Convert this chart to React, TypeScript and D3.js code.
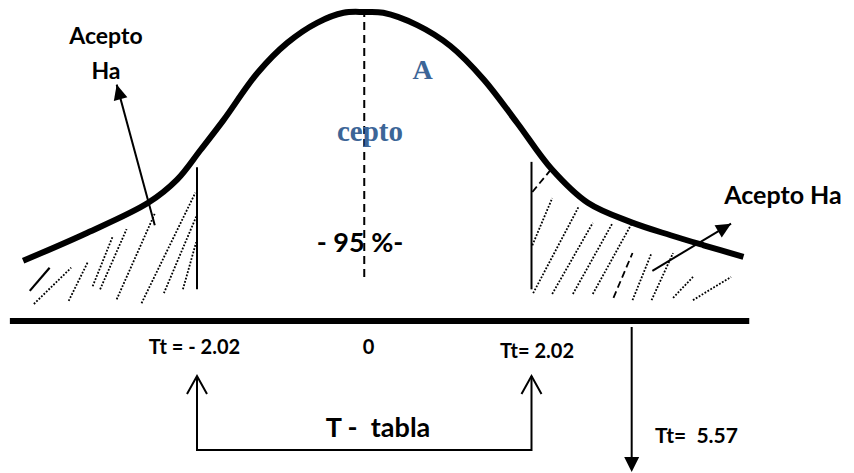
import React from "react";
import * as d3 from "d3";

// Curve: t value and density height
const tVals = [-4.12, -3.35, -2.61, -2.26, -1.98, -1.70, -1.29, -0.93, -0.57, -0.25, 0, 0.23, 0.64, 1.04, 1.44, 1.85, 2.26, 2.70, 3.22, 3.70, 4.10, 4.58];
const density = [0.078, 0.114, 0.153, 0.183, 0.221, 0.260, 0.321, 0.360, 0.386, 0.399, 0.400, 0.399, 0.383, 0.356, 0.313, 0.256, 0.197, 0.153, 0.128, 0.111, 0.098, 0.083];

// critical values
const criticalT = [-2.02, 2.02];
const calcT = 3.23; // position of the Tt = 5.57 marker on the drawing
const axisRange = [-4.28, 4.65];

// hatch strokes in the tails: [t1, d1, t2, d2, style]
const leftHatch: [number, number, number, number, string][] = [
  [-4.04, 0.039, -3.80, 0.069, "solid"],
  [-3.99, 0.022, -3.54, 0.069, "dot"],
  [-3.57, 0.026, -3.34, 0.076, "dot"],
  [-3.28, 0.045, -3.04, 0.109, "dot"],
  [-3.19, 0.041, -2.87, 0.119, "dot"],
  [-2.99, 0.028, -2.53, 0.139, "dot"],
  [-2.69, 0.023, -2.04, 0.166, "dot"],
  [-2.42, 0.036, -2.03, 0.135, "dot"],
  [-2.19, 0.041, -2.03, 0.102, "dot"],
];
const rightHatch: [number, number, number, number, string][] = [
  [2.03, 0.167, 2.27, 0.198, "dash"],
  [2.03, 0.098, 2.27, 0.159, "dot"],
  [2.04, 0.036, 2.59, 0.148, "dot"],
  [2.27, 0.035, 2.76, 0.127, "dot"],
  [2.52, 0.035, 3.00, 0.127, "dot"],
  [2.76, 0.035, 3.24, 0.128, "dot"],
  [3.01, 0.030, 3.24, 0.088, "dash"],
  [3.24, 0.027, 3.47, 0.088, "dot"],
  [3.47, 0.027, 3.73, 0.088, "dot"],
  [3.73, 0.030, 3.97, 0.057, "dot"],
  [3.97, 0.027, 4.43, 0.057, "dot"],
];
// region boundaries [t, dBottom, dTop]
const boundaries = [
  [-2.02, 0.041, 0.199],
  [2.02, 0.041, 0.206],
];
const centerLine = [0, 0.057, 0.396];
// arrows [tFrom, dFrom, tTo, dTo]
const arrows = [
  [-2.53, 0.124, -2.99, 0.306],
  [3.48, 0.065, 4.43, 0.126],
];

const W = 854;
const H = 473;

const x = d3.scaleLinear().domain([-2.02, 2.02]).range([197, 531.5]);
const y = d3.scaleLinear().domain([0, 0.4]).range([321, 12]);

const FONT = "Lato, 'Open Sans', sans-serif";
const BLUE = "#3c6597";

function headPath(x1: number, y1: number, x2: number, y2: number, len: number, half: number) {
  const a = Math.atan2(y2 - y1, x2 - x1);
  const bx = x2 - len * Math.cos(a);
  const by = y2 - len * Math.sin(a);
  const px = -Math.sin(a) * half;
  const py = Math.cos(a) * half;
  return `M${x2},${y2}L${bx + px},${by + py}L${bx - px},${by - py}Z`;
}

export default function App() {
  const pts: [number, number][] = tVals.map((t, i) => [x(t), y(density[i])]);
  const line = d3.line().curve(d3.curveCatmullRom.alpha(0.5))(pts) || "";

  const hatchStyle = (s: string) =>
    s === "dot"
      ? { strokeDasharray: "1.8 1.6", strokeWidth: 1.8 }
      : s === "dash"
      ? { strokeDasharray: "7 4", strokeWidth: 1.8 }
      : { strokeWidth: 2.2 };

  const yAxis = y(0);
  const arrowY0 = 376;
  const arrowY1 = 450;

  return (
    <svg width={W} height={H} style={{ position: "absolute", left: 0, top: 0, background: "#fff" }}>
      <rect width={W} height={H} fill="#fff" />
      {/* hatching */}
      {[...leftHatch, ...rightHatch].map((h, i) => (
        <line key={"h" + i} x1={x(h[0])} y1={y(h[1])} x2={x(h[2])} y2={y(h[3])} stroke="#000" {...hatchStyle(h[4])} />
      ))}
      {/* boundaries */}
      {boundaries.map((b, i) => (
        <line key={"b" + i} x1={x(b[0])} x2={x(b[0])} y1={y(b[1])} y2={y(b[2])} stroke="#000" strokeWidth={2} />
      ))}
      {/* center dashed */}
      <line x1={x(centerLine[0])} x2={x(centerLine[0])} y1={y(centerLine[1])} y2={y(centerLine[2])} stroke="#000" strokeWidth={2} strokeDasharray="8 5" />
      {/* curve */}
      <path d={line} fill="none" stroke="#000" strokeWidth={6} strokeLinecap="butt" />
      {/* arrows */}
      {arrows.map((a, i) => {
        const x1 = x(a[0]), y1 = y(a[1]), x2 = x(a[2]), y2 = y(a[3]);
        return (
          <g key={"a" + i}>
            <line x1={x1} y1={y1} x2={x2} y2={y2} stroke="#000" strokeWidth={2} />
            <path d={headPath(x1, y1, x2, y2, 15, 7)} fill="#000" />
          </g>
        );
      })}
      {/* axis */}
      <line x1={x(axisRange[0])} x2={x(axisRange[1])} y1={yAxis} y2={yAxis} stroke="#000" strokeWidth={6} />
      {/* up arrows + bracket */}
      {criticalT.map((t, i) => (
        <g key={"u" + i} fill="none" stroke="#000" strokeWidth={2}>
          <line x1={x(t)} x2={x(t)} y1={arrowY0} y2={arrowY1 + 1} />
          <path d={`M${x(t) - 10},${arrowY0 + 18}L${x(t)},${arrowY0}L${x(t) + 10},${arrowY0 + 18}`} />
        </g>
      ))}
      <line x1={x(criticalT[0])} x2={x(criticalT[1])} y1={arrowY1} y2={arrowY1} stroke="#000" strokeWidth={2} />
      {/* down arrow */}
      <line x1={x(calcT)} x2={x(calcT)} y1={327} y2={460} stroke="#000" strokeWidth={2} />
      <path d={headPath(x(calcT), 400, x(calcT), 472, 15, 7.5)} fill="#000" />

      {/* texts */}
      <g fontFamily={FONT} fontWeight="bold" fill="#000">
        <text x={106} y={44} fontSize={23} textAnchor="middle">Acepto</text>
        <text x={106} y={79} fontSize={23} textAnchor="middle">Ha</text>
        <text x={783} y={204} fontSize={25} textAnchor="middle">Acepto Ha</text>
        <text x={360} y={252} fontSize={27} textAnchor="middle">- 95 %-</text>
        <text x={194.5} y={354} fontSize={20} textAnchor="middle">Tt = - 2.02</text>
        <text x={368.5} y={354} fontSize={20} textAnchor="middle">0</text>
        <text x={537} y={358} fontSize={20} textAnchor="middle">Tt= 2.02</text>
        <text x={378} y={437} fontSize={27} textAnchor="middle" style={{ whiteSpace: "pre" }}>{"T -  tabla"}</text>
        <text x={696.5} y={443} fontSize={21} textAnchor="middle" style={{ whiteSpace: "pre" }}>{"Tt=  5.57"}</text>
      </g>
      <g fontFamily="'Liberation Serif', 'DejaVu Serif', serif" fontWeight="bold" fill={BLUE}>
        <text x={422.5} y={79} fontSize={28} textAnchor="middle">A</text>
        <text x={370} y={141} fontSize={29} textAnchor="middle">cepto</text>
      </g>
    </svg>
  );
}
